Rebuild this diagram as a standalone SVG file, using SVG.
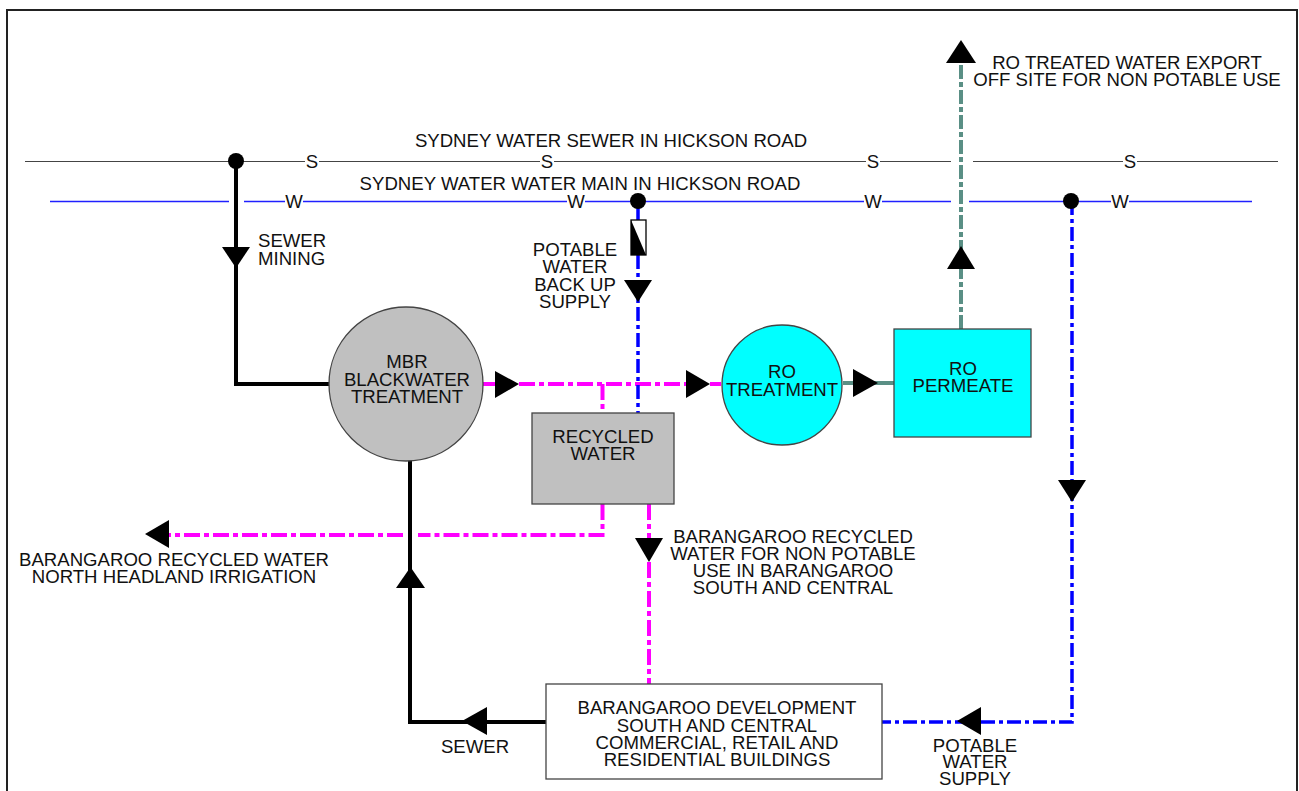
<svg xmlns="http://www.w3.org/2000/svg" width="1299" height="791" viewBox="0 0 1299 791">
<style>
text{font-family:"Liberation Sans",Arial,sans-serif;font-size:18.6px;fill:#111}
.c{text-anchor:middle}
.sew{stroke:#444;stroke-width:1.2;fill:none}
.wat{stroke:#2020ff;stroke-width:1.6;fill:none}
.blk{stroke:#000;stroke-width:4;fill:none}
.mag{stroke:#ff00ff;stroke-width:4;fill:none;stroke-dasharray:16 4 5 4}
.magS{stroke:#ff00ff;stroke-width:4;fill:none}
.blu{stroke:#0000ff;stroke-width:3.5;fill:none;stroke-dasharray:14 4 4 4}
.bluS{stroke:#0000ff;stroke-width:3.5;fill:none}
.grn{stroke:#5a8f85;stroke-width:4;fill:none;stroke-dasharray:14 3 5 3}
.grnS{stroke:#5a8f85;stroke-width:4;fill:none}
.arr{fill:#000}
.node{stroke:#444;stroke-width:1.3}
</style>
<rect x="7" y="10" width="1290" height="800" fill="#fff" stroke="#222" stroke-width="2"/>

<g id="mains">
<path class="sew" d="M25 161.5H305M319 161.5H540M554 161.5H866M880 161.5H951M973 161.5H1123M1137 161.5H1278"/>
<text x="312" y="167.5" class="c">S</text>
<text x="547" y="167.5" class="c">S</text>
<text x="873" y="167.5" class="c">S</text>
<text x="1130" y="167.5" class="c">S</text>
<path class="wat" d="M50 201.5H229M244 201.5H285M303 201.5H567M585 201.5H864M882 201.5H951M969 201.5H1111M1129 201.5H1252"/>
<text x="294" y="207.5" class="c">W</text>
<text x="576" y="207.5" class="c">W</text>
<text x="873" y="207.5" class="c">W</text>
<text x="1120" y="207.5" class="c">W</text>
<text x="611" y="147" class="c">SYDNEY WATER SEWER IN HICKSON ROAD</text>
<text x="580" y="190" class="c">SYDNEY WATER WATER MAIN IN HICKSON ROAD</text>
</g>

<g id="connectors">
<path class="blk" d="M236 161V384H330"/>
<circle cx="236" cy="161" r="8" fill="#000"/>
<polygon class="arr" points="222,247 250,247 236,268"/>
<path class="blk" d="M546 722H410V460"/>
<polygon class="arr" points="396,588 425,588 410.5,567"/>
<polygon class="arr" points="462,721 487,707 487,735"/>
<path class="magS" d="M483 384H497"/>
<path class="mag" d="M519 384H686"/>
<path class="magS" d="M710 384H721"/>
<polygon class="arr" points="495,371 495,398 519,384"/>
<polygon class="arr" points="686,370 686,398 710,384"/>
<path class="mag" d="M602.5 384V413"/>
<path class="mag" d="M602.5 504V535H418"/>
<path class="mag" d="M403 535H169"/>
<polygon class="arr" points="145,534 169,520 169,548"/>
<path class="mag" d="M649 504V684"/>
<polygon class="arr" points="635,538 663,538 649,562"/>
<path class="bluS" d="M638 201V220"/>
<path class="blu" d="M638 255V413"/>
<circle cx="638" cy="201" r="8" fill="#000"/>
<rect x="631" y="220" width="15" height="35" fill="#fff" stroke="#000" stroke-width="1.3"/>
<polygon points="631,220 631,255 646,255" fill="#000"/>
<polygon class="arr" points="624,280 652,280 638,302"/>
<path class="blu" d="M1072 201V722H882"/>
<circle cx="1071" cy="201" r="8" fill="#000"/>
<polygon class="arr" points="1058,480 1086,480 1072,502"/>
<polygon class="arr" points="957,721 981,707 981,735"/>
<path class="grnS" d="M843 383H895"/>
<polygon class="arr" points="853,369 853,397 878,383"/>
<path class="grn" d="M961 329V60"/>
<polygon class="arr" points="947,269 975,269 961,246"/>
<polygon class="arr" points="946,63 976,63 961,40"/>
</g>

<g id="mbr">
<circle cx="406" cy="384" r="77" fill="#c0c0c0" class="node"/>
<text x="407" y="368" class="c">MBR</text>
<text x="407" y="386" class="c">BLACKWATER</text>
<text x="407" y="403" class="c">TREATMENT</text>
</g>

<g id="recycled">
<rect x="532" y="413" width="142" height="91" fill="#c0c0c0" class="node"/>
<text x="603" y="443" class="c">RECYCLED</text>
<text x="603" y="460" class="c">WATER</text>
</g>

<g id="ro-treatment">
<circle cx="782" cy="385" r="60" fill="#00ffff" class="node"/>
<text x="782" y="378" class="c">RO</text>
<text x="782" y="396" class="c">TREATMENT</text>
</g>

<g id="ro-permeate">
<rect x="894" y="329" width="137" height="108" fill="#00ffff" class="node"/>
<text x="963" y="375" class="c">RO</text>
<text x="963" y="392" class="c">PERMEATE</text>
</g>

<g id="development">
<rect x="546" y="684" width="336" height="95" fill="#fff" class="node"/>
<text x="717" y="714" class="c">BARANGAROO DEVELOPMENT</text>
<text x="717" y="732" class="c">SOUTH AND CENTRAL</text>
<text x="717" y="749" class="c">COMMERCIAL, RETAIL AND</text>
<text x="717" y="766" class="c">RESIDENTIAL BUILDINGS</text>
</g>

<g id="labels">
<text x="258" y="247">SEWER</text>
<text x="258" y="265">MINING</text>
<text x="575" y="256" class="c">POTABLE</text>
<text x="575" y="273" class="c">WATER</text>
<text x="575" y="291" class="c">BACK UP</text>
<text x="575" y="308" class="c">SUPPLY</text>
<text x="1127" y="69" class="c">RO TREATED WATER EXPORT</text>
<text x="1127" y="86" class="c">OFF SITE FOR NON POTABLE USE</text>
<text x="174" y="566" class="c">BARANGAROO RECYCLED WATER</text>
<text x="174" y="583" class="c">NORTH HEADLAND IRRIGATION</text>
<text x="793" y="543" class="c">BARANGAROO RECYCLED</text>
<text x="793" y="560" class="c">WATER FOR NON POTABLE</text>
<text x="793" y="577" class="c">USE IN BARANGAROO</text>
<text x="793" y="594" class="c">SOUTH AND CENTRAL</text>
<text x="475" y="753" class="c">SEWER</text>
<text x="975" y="752" class="c">POTABLE</text>
<text x="975" y="768" class="c">WATER</text>
<text x="975" y="785" class="c">SUPPLY</text>
</g>
</svg>
